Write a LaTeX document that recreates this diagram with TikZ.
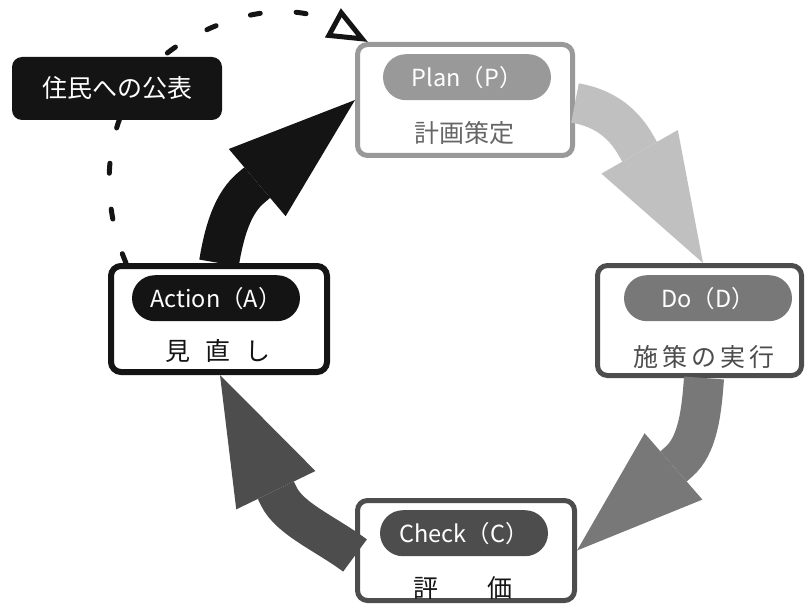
\documentclass[tikz,border=0pt]{standalone}
\usepackage{fontspec}
\setmainfont{Noto Sans CJK JP}
\usepackage{tikz}
\usetikzlibrary{arrows.meta,positioning,shapes.misc}

\definecolor{ink}{HTML}{141414}
\definecolor{darkgr}{HTML}{4D4D4D}
\definecolor{midgr}{HTML}{787878}
\definecolor{lightgr}{HTML}{999999}
\definecolor{palegr}{HTML}{C0C0C0}
\definecolor{labgr}{HTML}{666666}

\begin{document}
\begin{tikzpicture}[
      x=1pt,y=-1pt,
      phase/.style={
         draw,
         line width=5pt,
         rounded corners=10pt,
         fill=white,
         inner sep=0pt},
      tag/.style={
         rounded rectangle,
         minimum width=168pt,
         minimum height=46pt,
         inner sep=0pt,
         text=white,
         font=\fontsize{23.5pt}{28pt}\selectfont},
      jp/.style={
         inner sep=0pt,
         font=\fontsize{25pt}{30pt}\selectfont},
      cyclearrow/.style={
         line width=40pt,
         -{Triangle[length=128pt,width=88pt,line width=0pt]}},
      node distance=12pt and 12pt
      ]
      \useasboundingbox (0,0) rectangle (805,604);

      % the four phases
      \node[phase,draw=lightgr,minimum width=215pt,minimum height=111pt] (plan) at (465,100) {};
      \node[phase,draw=darkgr,minimum width=204pt,minimum height=110pt] (do) at (699.5,320.5) {};
      \node[phase,draw=darkgr,minimum width=217pt,minimum height=100pt] (check) at (466,550.5) {};
      \node[phase,draw=ink,line width=6pt,minimum width=216pt,minimum height=106pt] (act) at (219,319) {};

      \node[tag,fill=lightgr,below=12pt of plan.north,xshift=2pt] (plantag) {Plan（P）};
      \node[tag,fill=midgr,below=12pt of do.north,xshift=8.5pt] (dotag) {Do（D）};
      \node[tag,fill=darkgr,below=12pt of check.north,xshift=-2pt] (checktag) {Check（C）};
      \node[tag,fill=ink,below=12pt of act.north,xshift=-3pt] (acttag) {Action（A）};

      \node[jp,text=labgr,below=21pt of plantag,xshift=-2.5pt] (planlbl) {計画策定};
      \node[jp,text=darkgr,below=24pt of dotag,xshift=-4pt] (dolbl) {施\hspace{4pt}策\hspace{4pt}の\hspace{4pt}実\hspace{4pt}行};
      \node[jp,text=ink,below=20pt of checktag,xshift=-1pt] (checklbl) {評\hspace{49pt}価};
      \node[jp,text=ink,below=18pt of acttag,xshift=2pt] (actlbl) {見\hspace{15pt}直\hspace{15pt}し};

      % PDCA cycle
      \draw[cyclearrow,palegr] ([yshift=-3pt]plan.east) .. controls (605,108) and (624,124) .. (636,145.5) -- ([xshift=3.5pt]do.north);
      \draw[cyclearrow,midgr] ([xshift=4.5pt]do.south) .. controls (701.5,413) and (697.6,445.4) .. (678.8,461.8) -- (check.east);
      \draw[cyclearrow,darkgr] ([yshift=-5pt]check.west) .. controls (327,534.5) and (289.8,519) .. (278.9,496.5) -- ([xshift=1pt]act.south);
      \draw[cyclearrow,ink] (act.north) .. controls (224,233) and (232,203) .. (252,187) -- (plan.west);

      % feedback to residents
      \draw[ink,line width=5pt,line cap=round,dash pattern=on 10pt off 36pt,
            -{Triangle[open,length=40pt,width=32pt]}]
         ([xshift=18pt]act.north west) .. controls (95,190) and (100,80) .. (200,33)
         .. controls (250,8) and (300,5) .. ([xshift=13pt]plan.north west);
      \node[jp,fill=ink,text=white,rounded corners=10pt,minimum width=210pt,minimum height=63pt] (pub) at (117,88.5) {住民への公表};

\end{tikzpicture}
\end{document}
